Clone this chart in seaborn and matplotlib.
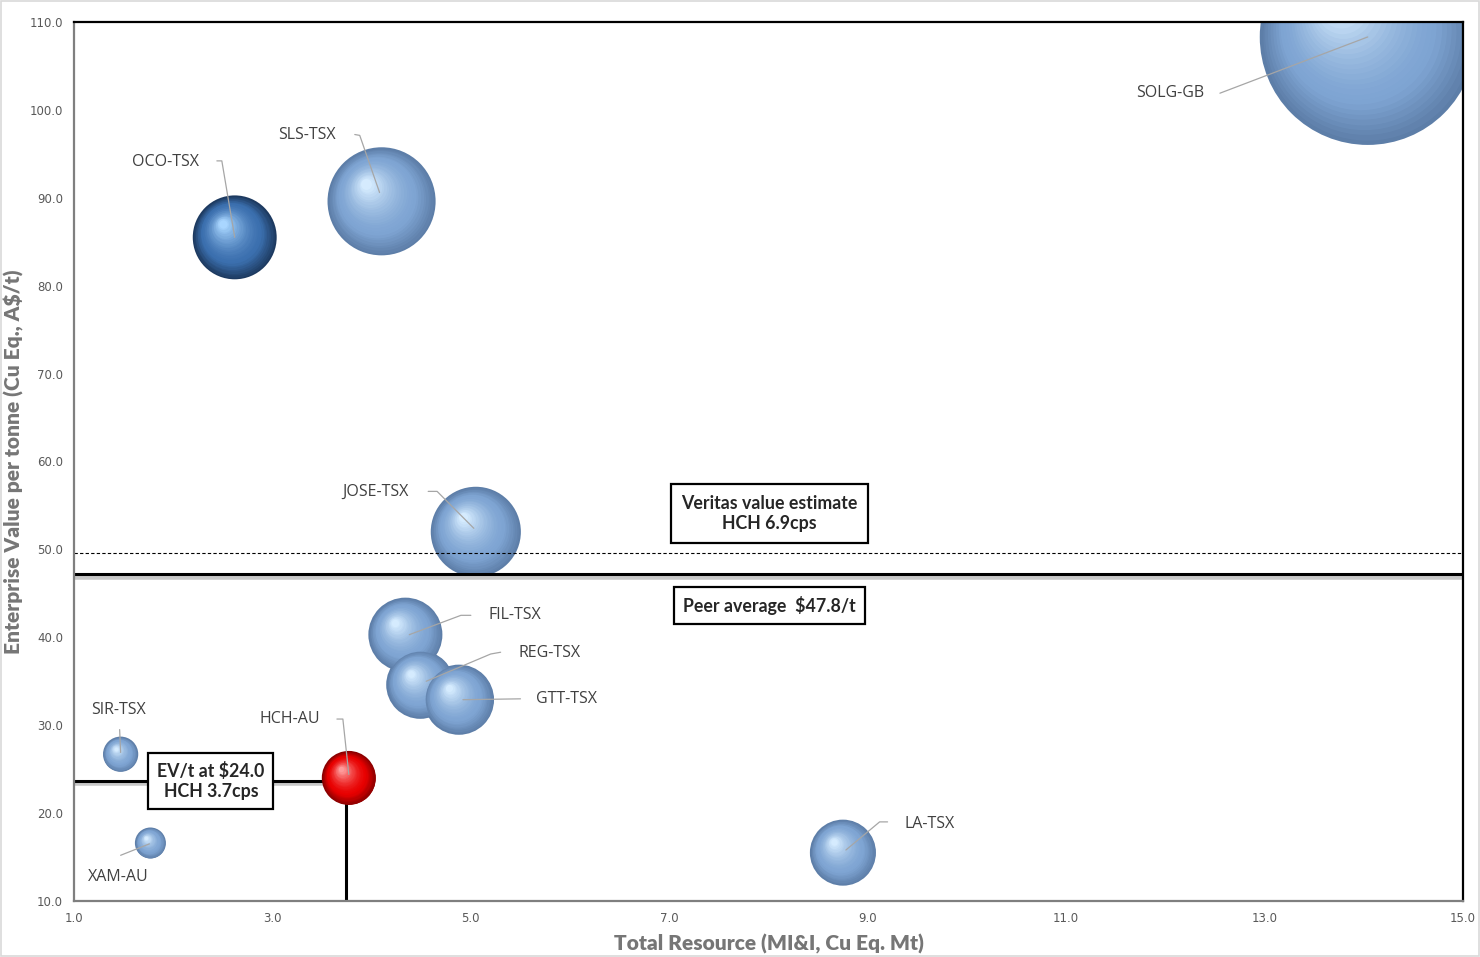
import numpy as np
import pandas as pd
import matplotlib
matplotlib.use("Agg")
import matplotlib.pyplot as plt
import matplotlib.transforms as mtransforms
from matplotlib.patches import Rectangle
from matplotlib.colors import to_rgb
import seaborn as sns

# ---------------- data ----------------
companies = ["SOLG-GB", "OCO-TSX", "SLS-TSX", "JOSE-TSX", "FIL-TSX", "REG-TSX",
             "GTT-TSX", "SIR-TSX", "HCH-AU", "XAM-AU", "LA-TSX"]
resource_mt = [14.04, 2.62, 4.10, 5.05, 4.34, 4.49, 4.88, 1.47, 3.77, 1.77, 8.75]
ev_per_t = [108.3, 85.5, 89.6, 52.0, 40.3, 34.6, 32.9, 26.7, 24.0, 16.6, 15.5]
bubble_size = [1166, 176, 292, 203, 137, 116, 123, 31, 73, 24, 109]
group = ["peer", "oco", "peer", "peer", "peer", "peer", "peer", "peer", "hch", "peer", "peer"]

peer_average_line = 47.2
veritas_line = 49.6
hch_ev_line = 23.7
hch_resource_line = 3.74

x_ticks = [1.0, 3.0, 5.0, 7.0, 9.0, 11.0, 13.0, 15.0]
y_ticks = [10.0, 20.0, 30.0, 40.0, 50.0, 60.0, 70.0, 80.0, 90.0, 100.0, 110.0]

df = pd.DataFrame({"company": companies, "x": resource_mt, "y": ev_per_t,
                   "size": bubble_size, "group": group})

# ---------------- styling ----------------
sns.set_theme(style="white")
plt.rcParams["font.family"] = ["Open Sans", "DejaVu Sans"]

fig = plt.figure(figsize=(14.8, 9.57), dpi=100)
ax = fig.add_axes([74 / 1480, 1 - 901 / 957, (1463 - 74) / 1480, (901 - 22) / 957])

SCALE = 20.74  # points^2 per size unit
smax = max(bubble_size) * SCALE

colors = {
    "peer": {"dark": "#5d7ea8", "base": "#7fa5d3", "hi": "#d6ecff"},
    "oco": {"dark": "#1d3a60", "base": "#3b6fae", "hi": "#a9d6ff"},
    "hch": {"dark": "#8a0000", "base": "#e80000", "hi": "#ff9a9a"},
}

# base layer through seaborn
sns.scatterplot(data=df, x="x", y="y", size="size", sizes=(0, smax),
                size_norm=(0, max(bubble_size)), hue="group",
                palette={k: v["dark"] for k, v in colors.items()},
                legend=False, linewidth=0, ax=ax, zorder=3)

# shading layers for a sphere look
N = 26
for _, row in df.iterrows():
    s = row["size"] * SCALE
    r = np.sqrt(s) / 2.0
    c = colors[row["group"]]
    dark, base, hi = np.array(to_rgb(c["dark"])), np.array(to_rgb(c["base"])), np.array(to_rgb(c["hi"]))
    for t in np.linspace(0.04, 1.0, N):
        if t < 0.3:
            col = dark + (base - dark) * (t / 0.3)
        else:
            u = (t - 0.3) / 0.7
            col = base + (hi - base) * u ** 1.6
        f = 1 - 0.9 * t
        dx, dy = -0.28 * r * t, 0.32 * r * t
        tr = mtransforms.offset_copy(ax.transData, fig=fig, x=dx, y=dy, units="points")
        ax.scatter([row["x"]], [row["y"]], s=s * f * f, color=col, linewidth=0,
                   transform=tr, zorder=3, alpha=0.9 if row["group"] == "peer" else 1.0)

# reference lines
ax.plot([1, 15], [peer_average_line - 0.35, peer_average_line - 0.35], color="#c8c8c8", lw=4, zorder=4, solid_capstyle="butt")
ax.plot([1, 15], [peer_average_line, peer_average_line], color="black", lw=2.2, zorder=5)
ax.plot([1, 15], [veritas_line, veritas_line], color="black", lw=0.8, ls=(0, (3, 2)), zorder=5)
ax.plot([1, 3.5], [hch_ev_line - 0.3, hch_ev_line - 0.3], color="#c8c8c8", lw=4, zorder=2)
ax.plot([1, 3.5], [hch_ev_line, hch_ev_line], color="black", lw=2.2, zorder=2)
ax.plot([hch_resource_line, hch_resource_line], [10, 21], color="black", lw=2.2, zorder=2)

# labels with leader lines: (text x, text y, ha, leader points)
label_specs = {
    "SOLG-GB": (12.05, 101.9, "center", [(12.55, 101.9), (14.04, 108.3)]),
    "OCO-TSX": (1.92, 94.1, "center", [(2.44, 94.2), (2.49, 94.2), (2.62, 85.5)]),
    "SLS-TSX": (3.35, 97.1, "center", [(3.83, 97.2), (3.88, 97.1), (4.08, 90.6)]),
    "JOSE-TSX": (4.04, 56.5, "center", [(4.57, 56.6), (4.66, 56.6), (5.03, 52.4)]),
    "FIL-TSX": (5.44, 42.5, "center", [(5.0, 42.5), (4.90, 42.5), (4.38, 40.3)]),
    "REG-TSX": (5.79, 38.2, "center", [(5.30, 38.3), (5.20, 38.1), (4.55, 35.0)]),
    "GTT-TSX": (5.96, 33.0, "center", [(5.50, 33.0), (4.92, 32.9)]),
    "SIR-TSX": (1.45, 31.7, "center", [(1.46, 29.5), (1.47, 26.9)]),
    "HCH-AU": (3.18, 30.7, "center", [(3.65, 30.7), (3.71, 30.7), (3.77, 24.4)]),
    "XAM-AU": (1.45, 12.7, "center", [(1.47, 15.2), (1.76, 16.5)]),
    "LA-TSX": (9.62, 18.8, "center", [(9.2, 19.0), (9.12, 19.0), (8.78, 15.8)]),
}
for name, (tx, ty, ha, pts) in label_specs.items():
    ax.text(tx, ty, name, ha=ha, va="center", fontsize=11.5, color="#404040", zorder=7)
    px, py = zip(*pts)
    ax.plot(px, py, color="#a6a6a6", lw=0.9, zorder=6)

box = dict(boxstyle="square,pad=0.6", facecolor="white", edgecolor="black", linewidth=1.6)
bold_font = ["Lato", "DejaVu Sans"]
ax.text(8.01, 54.1, "Veritas value estimate\nHCH 6.9cps", ha="center", va="center",
        fontsize=12.8, fontweight="bold", family=bold_font, bbox=box, zorder=8, linespacing=1.25)
ax.text(8.01, 43.65, "Peer average  $47.8/t", ha="center", va="center",
        fontsize=12.8, fontweight="bold", family=bold_font,
        bbox=dict(boxstyle="square,pad=0.5", facecolor="white", edgecolor="black", linewidth=1.6), zorder=8)
ax.text(2.38, 23.65, "EV/t at $24.0\nHCH 3.7cps", ha="center", va="center",
        fontsize=12.8, fontweight="bold", family=bold_font,
        bbox=dict(boxstyle="square,pad=0.5", facecolor="white", edgecolor="black", linewidth=1.6),
        zorder=8, linespacing=1.25)

# axes
ax.set_xlim(1, 15)
ax.set_ylim(10, 110)
ax.set_xticks(x_ticks)
ax.set_yticks(y_ticks)
ax.set_xticklabels([f"{v:.1f}" for v in x_ticks])
ax.set_yticklabels([f"{v:.1f}" for v in y_ticks])
ax.tick_params(axis="both", length=0, labelsize=8.5, colors="#595959", pad=8)
for lab in ax.get_xticklabels() + ax.get_yticklabels():
    lab.set_family(["DejaVu Sans"])
xl = ax.set_xlabel("Total Resource (MI&I, Cu Eq. Mt)", labelpad=6)
yl = ax.set_ylabel("Enterprise Value per tonne (Cu Eq., A$/t)", labelpad=4)
for lab in (xl, yl):
    lab.set_family(bold_font)
    lab.set_fontweight("heavy")
    lab.set_fontsize(15)
    lab.set_color("#767676")
ax.grid(False)
for side in ["left", "bottom"]:
    ax.spines[side].set_color("#7f7f7f")
    ax.spines[side].set_linewidth(1.6)
for side in ["top", "right"]:
    ax.spines[side].set_color("black")
    ax.spines[side].set_linewidth(1.6)
for sp in ax.spines.values():
    sp.set_zorder(9)

fig.patches.append(Rectangle((0.0005, 0.0008), 0.999, 0.9985, transform=fig.transFigure,
                             fill=False, edgecolor="#d9d9d9", linewidth=1.2))

fig.savefig("out.png", dpi=100)
